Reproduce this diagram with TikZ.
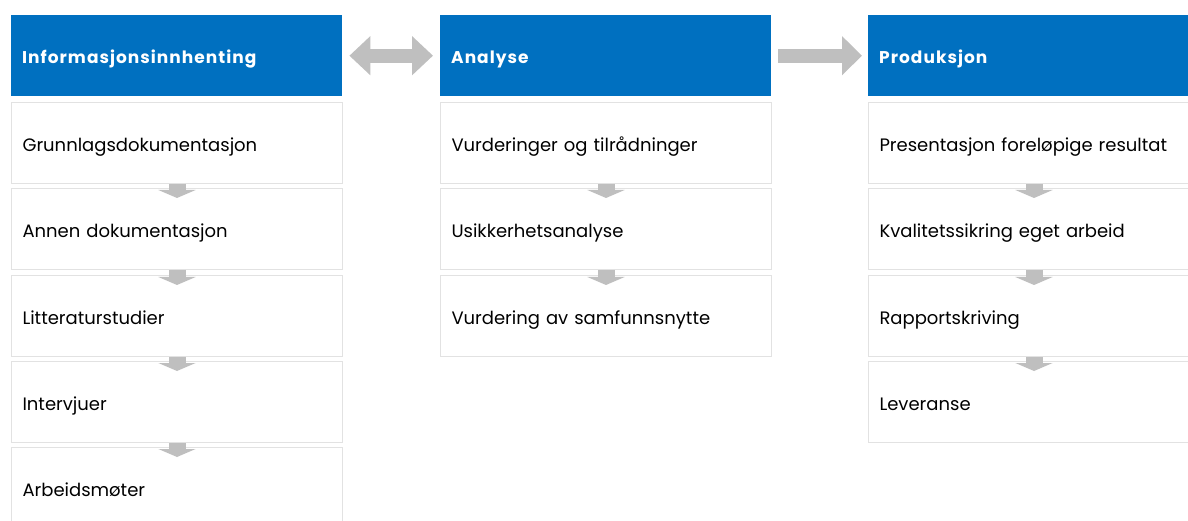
\documentclass[tikz,border=0pt]{standalone}
\usepackage{fontspec}
\setmainfont{Poppins}[WordSpace=2.5]
\newfontfamily\hdrfont{Poppins}[LetterSpace=6,WordSpace=2]
\usetikzlibrary{arrows.meta}
\definecolor{hdrblue}{HTML}{0070C0}
\definecolor{arrgray}{HTML}{BFBFBF}
\definecolor{boxline}{HTML}{E2E2E2}
\begin{document}
\begin{tikzpicture}[x=1pt,y=-1pt,
  hdr/.style={rectangle,fill=hdrblue,anchor=north west,minimum width=331pt,minimum height=81pt,
    text width=309pt,inner xsep=11pt,inner ysep=0pt,align=left,text=white,
    text height=15pt,text depth=0pt,
    font=\hdrfont\fontsize{17}{20}\selectfont\bfseries},
  itembox/.style={rectangle,draw=boxline,line width=1pt,fill=white,anchor=north west,minimum width=331pt,minimum height=81pt,
    text width=309pt,inner xsep=11pt,inner ysep=0pt,align=left,text=black,
    text height=17pt,text depth=0pt,
    font=\fontsize{18}{21}\selectfont},
  downarr/.style={draw=arrgray,line width=17pt,-{Triangle[width=37pt,length=8pt]},shorten >=-10pt},
  bigarr/.style={draw=arrgray,line width=14pt,shorten <=7pt,shorten >=7pt}
]
\useasboundingbox (0,0) rectangle (1188,521);
\clip (0,0) rectangle (1188,521);
% column 1
\node[hdr] (h1) at (11,15) {Informasjonsinnhenting};
\node[itembox] (a1) at (11,102) {Grunnlagsdokumentasjon};
\node[itembox] (a2) at (11,188) {Annen dokumentasjon};
\node[itembox] (a3) at (11,275) {Litteraturstudier};
\node[itembox] (a4) at (11,361) {Intervjuer};
\node[itembox] (a5) at (11,447) {Arbeidsmøter};
% column 2
\node[hdr] (h2) at (440,15) {Analyse};
\node[itembox] (b1) at (440,102) {Vurderinger og tilrådninger};
\node[itembox] (b2) at (440,188) {Usikkerhetsanalyse};
\node[itembox] (b3) at (440,275) {Vurdering av samfunnsnytte};
% column 3
\node[hdr] (h3) at (868,15) {Produksjon};
\node[itembox] (c1) at (868,102) {Presentasjon foreløpige resultat};
\node[itembox] (c2) at (868,188) {Kvalitetssikring eget arbeid};
\node[itembox] (c3) at (868,275) {Rapportskriving};
\node[itembox] (c4) at (868,361) {Leveranse};
% down arrows
\foreach \p/\q in {a1/a2,a2/a3,a3/a4,a4/a5,b1/b2,b2/b3,c1/c2,c2/c3,c3/c4}
  \draw[downarr] (\p.south) -- (\q.north);
% header arrows
\draw[bigarr,{Triangle[width=38pt,length=21pt]}-{Triangle[width=38pt,length=21pt]}] (h1.east) -- (h2.west);
\draw[bigarr,-{Triangle[width=38pt,length=20pt]},shorten >=6pt] (h2.east) -- (h3.west);
\end{tikzpicture}
\end{document}
